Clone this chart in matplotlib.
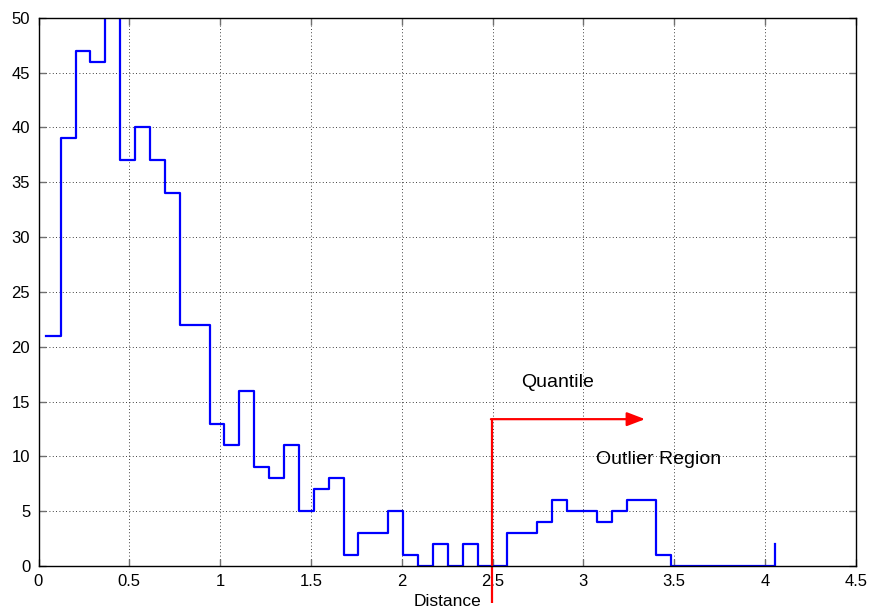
import numpy as np
import matplotlib
matplotlib.use('Agg')
import matplotlib.pyplot as plt

plt.rcParams['font.family'] = ['Liberation Sans', 'DejaVu Sans']

# histogram bin centres and counts of the distances
centers = [0.040, 0.122, 0.204, 0.286, 0.368, 0.450, 0.532, 0.614, 0.696, 0.778,
           0.860, 0.942, 1.024, 1.106, 1.188, 1.270, 1.352, 1.434, 1.516, 1.598,
           1.680, 1.762, 1.844, 1.926, 2.008, 2.090, 2.172, 2.254, 2.336, 2.418,
           2.500, 2.582, 2.664, 2.746, 2.828, 2.910, 2.992, 3.074, 3.156, 3.238,
           3.320, 3.402, 3.484, 3.566, 3.648, 3.730, 3.812, 3.894, 3.976, 4.058]
counts = [21, 39, 47, 46, 51, 37, 40, 37, 34, 22,
          22, 13, 11, 16, 9, 8, 11, 5, 7, 8,
          1, 3, 3, 5, 1, 0, 2, 0, 2, 0,
          0, 3, 3, 4, 6, 5, 5, 4, 5, 6,
          6, 1, 0, 0, 0, 0, 0, 0, 0, 2]

quantile = 2.495
arrow_y = 13.4
arrow_end = 3.34
line_bottom = -3.4

fig = plt.figure(figsize=(8.75, 6.14), dpi=100, facecolor='white')
ax = fig.add_axes([0.044, 0.078, 0.934, 0.893])

ax.step(centers, counts, where='post', color='#0000ff', lw=1.6)

# quantile marker and arrow into the outlier region
ax.plot([quantile, quantile], [line_bottom, arrow_y], color='red', lw=1.6,
        clip_on=False, solid_capstyle='butt')
ax.annotate('', xy=(arrow_end, arrow_y), xytext=(quantile - 0.004, arrow_y),
            arrowprops=dict(arrowstyle='-|>,head_length=1.1,head_width=0.42',
                            color='red', lw=1.6, shrinkA=0, shrinkB=0))
ax.text(2.86, 16.7, 'Quantile', ha='center', va='center', fontsize=14)
ax.text(3.415, 9.7, 'Outlier Region', ha='center', va='center', fontsize=14)

ax.set_xlim(0, 4.5)
ax.set_ylim(0, 50)
ax.set_xticks(np.arange(0, 4.51, 0.5))
ax.set_xticklabels(['0', '0.5', '1', '1.5', '2', '2.5', '3', '3.5', '4', '4.5'])
ax.set_yticks(np.arange(0, 51, 5))
ax.tick_params(direction='in', length=5, width=1, color='#707070',
               labelsize=12, top=True, right=True, pad=6)
ax.grid(True, linestyle=(0, (1, 3)), color='black', lw=0.6)
for s in ax.spines.values():
    s.set_linewidth(1.0)
ax.set_xlabel('Distance', fontsize=12.5, labelpad=3)

fig.savefig('out.png', dpi=100)
